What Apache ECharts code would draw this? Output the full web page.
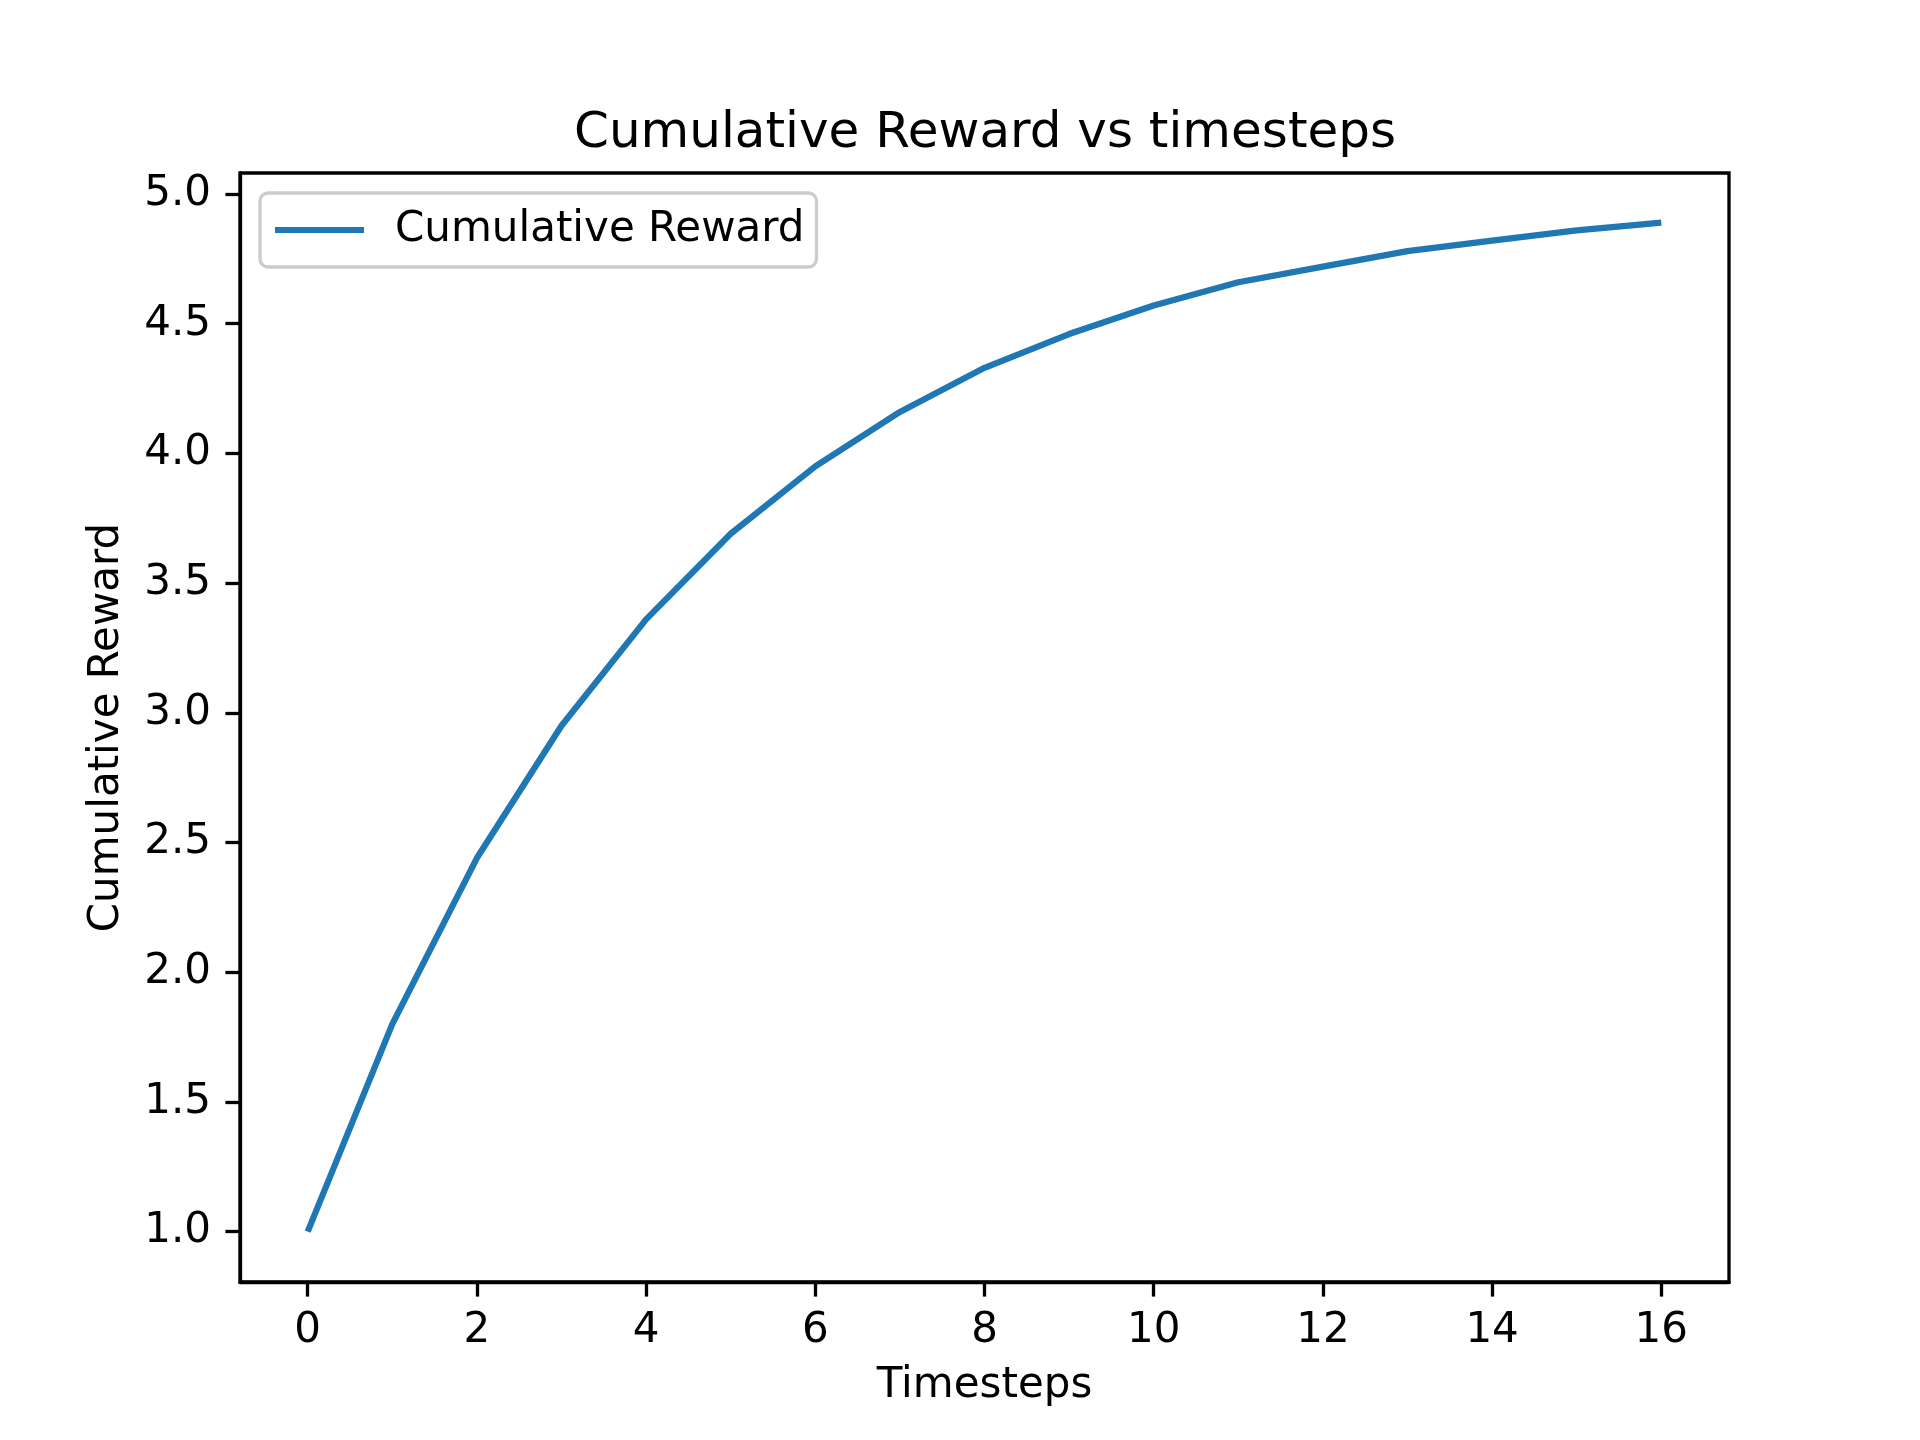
<!DOCTYPE html>
<html>
<head>
<meta charset="utf-8">
<script src="https://cdn.jsdelivr.net/npm/echarts@6/dist/echarts.min.js"></script>
<style>
  html, body { margin: 0; padding: 0; background: #fff; }
  #chart { width: 1920px; height: 1440px; }
</style>
</head>
<body>
<div id="chart"></div>
<script>
// data
const timesteps = [0, 1, 2, 3, 4, 5, 6, 7, 8, 9, 10, 11, 12, 13, 14, 15, 16];
const cumulativeReward = [1.0, 1.8, 2.44, 2.95, 3.36, 3.69, 3.95, 4.16, 4.33, 4.46, 4.57, 4.66, 4.72, 4.78, 4.82, 4.86, 4.89];
const xTicks = [0, 2, 4, 6, 8, 10, 12, 14, 16];
const yTicks = [1.0, 1.5, 2.0, 2.5, 3.0, 3.5, 4.0, 4.5, 5.0];

const chart = echarts.init(document.getElementById('chart'));
const font = 'DejaVu Sans';

chart.setOption({
    backgroundColor: '#ffffff',
    animation: false,
    title: {
        text: 'Cumulative Reward vs timesteps',
        left: 980, top: 104, textAlign: 'center',
        textStyle: { fontFamily: font, fontSize: 50, fontWeight: 'normal', color: '#000' }
    },
    legend: {
        left: 260, top: 193,
        padding: [16, 12, 16, 15],
        backgroundColor: '#fff',
        borderColor: '#cccccc', borderWidth: 3.3, borderRadius: 8,
        icon: 'rect', itemWidth: 89, itemHeight: 6,
        textStyle: { fontFamily: font, fontSize: 42, color: '#000', padding: [0, 0, 0, 26] },
        data: ['Cumulative Reward']
    },
    grid: {
        left: 240, right: 191, top: 173, bottom: 158,
        show: true, borderColor: '#000', borderWidth: 3.3, backgroundColor: 'transparent'
    },
    xAxis: {
        type: 'value', min: -0.8, max: 16.8,
        name: 'Timesteps', nameLocation: 'middle', nameGap: 83,
        nameTextStyle: { fontFamily: font, fontSize: 42, color: '#000' },
        splitLine: { show: false },
        axisLine: { show: true, onZero: false, lineStyle: { color: '#000', width: 3.3 } },
        axisTick: { show: true, length: 14.6, lineStyle: { color: '#000', width: 3.3 }, customValues: xTicks },
        axisLabel: { fontFamily: font, fontSize: 42, color: '#000', margin: 28, customValues: xTicks }
    },
    yAxis: {
        type: 'value', min: 0.8056, max: 5.081,
        name: 'Cumulative Reward', nameLocation: 'middle', nameGap: 112,
        nameTextStyle: { fontFamily: font, fontSize: 42, color: '#000' },
        splitLine: { show: false },
        axisLine: { show: true, onZero: false, lineStyle: { color: '#000', width: 3.3 } },
        axisTick: { show: true, length: 14.6, lineStyle: { color: '#000', width: 3.3 }, customValues: yTicks },
        axisLabel: {
            fontFamily: font, fontSize: 42, color: '#000', margin: 29, customValues: yTicks,
            formatter: function (v) { return v.toFixed(1); }
        }
    },
    series: [{
        name: 'Cumulative Reward',
        type: 'line',
        data: timesteps.map(function (t, i) { return [t, cumulativeReward[i]]; }),
        showSymbol: false,
        color: '#1f77b4',
        lineStyle: { color: '#1f77b4', width: 6.25, cap: 'butt', join: 'round' }
    }]
});
</script>
</body>
</html>
